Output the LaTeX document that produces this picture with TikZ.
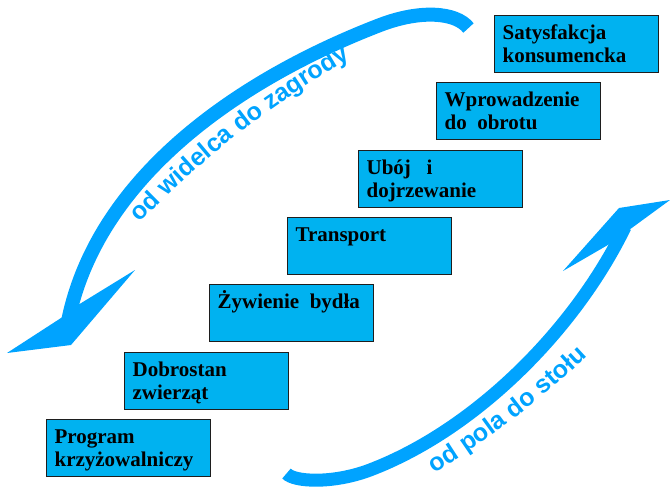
\documentclass[tikz,border=0pt]{standalone}
\usepackage{fontspec}
\setmainfont{Liberation Serif}
\newfontfamily\arrowfont{Liberation Sans}
\usetikzlibrary{decorations.text}
\definecolor{boxblue}{RGB}{0,178,240}
\definecolor{arrowblue}{RGB}{0,163,255}
\definecolor{boxline}{RGB}{30,30,30}
\newcommand{\stagetext}[1]{\parbox[t][57pt][t]{148pt}{\raggedright\rule{0pt}{23.5pt}#1}}
\begin{document}
\begin{tikzpicture}[x=1pt,y=-1pt,
  stage/.style={draw=boxline, line width=1.2pt, fill=boxblue, anchor=north west,
    inner xsep=8pt, inner ysep=0pt, font=\fontsize{21}{23.5}\selectfont\bfseries},
  band/.style={draw=arrowblue, line width=13pt},
  head/.style={fill=arrowblue},
  arrowlabel/.style={decorate, decoration={text along path, text align=left,
    text color=arrowblue, text={|\arrowfont\bfseries\fontsize{25}{30}\selectfont|#1}}}
]
\useasboundingbox (0,0) rectangle (670,488);

% upper arrow: od widelca do zagrody
\draw[band, line width=14pt] (468.5,28) .. controls (456,12) and (420,9.6) .. (380,25)
  .. controls (250,75) and (100,170) .. (68.5,319);
\fill[head] (7,353) -- (71,345) -- (135,270) -- (78,305) -- (61,318) -- cycle;

% lower arrow: od pola do stolu
\draw[band] (286.5,473.5) .. controls (294,482) and (333,484) .. (370,470)
  .. controls (475,430) and (575,330) .. (625,227);
\fill[head] (670,200) -- (619,208) -- (563,271) -- (613,242) -- (629,230) -- cycle;

% arrow labels
\path[arrowlabel={od widelca do zagrody}] (140,223) .. controls (201.3,159.3) and (270.3,105.3) .. (347,61) -- (373,46);
\path[arrowlabel={od pola do stołu}] (434.5,473.2) .. controls (490.3,438.9) and (542.1,399.2) .. (589.9,354.1) -- (611.7,333.5);

% stages
\node[stage] (b1) at (46,419) {\stagetext{Program\\krzyżowalniczy}};
\node[stage] (b2) at (124,352) {\stagetext{Dobrostan\\zwierząt}};
\node[stage] (b3) at (209,284) {\stagetext{Żywienie\ \ bydła}};
\node[stage] (b4) at (287,217) {\stagetext{Transport}};
\node[stage] (b5) at (358,150) {\stagetext{Ubój\ \ \ i\\dojrzewanie}};
\node[stage] (b6) at (436,82) {\stagetext{Wprowadzenie\\do\ \ obrotu}};
\node[stage] (b7) at (494,15) {\stagetext{Satysfakcja\\konsumencka}};
\end{tikzpicture}
\end{document}
